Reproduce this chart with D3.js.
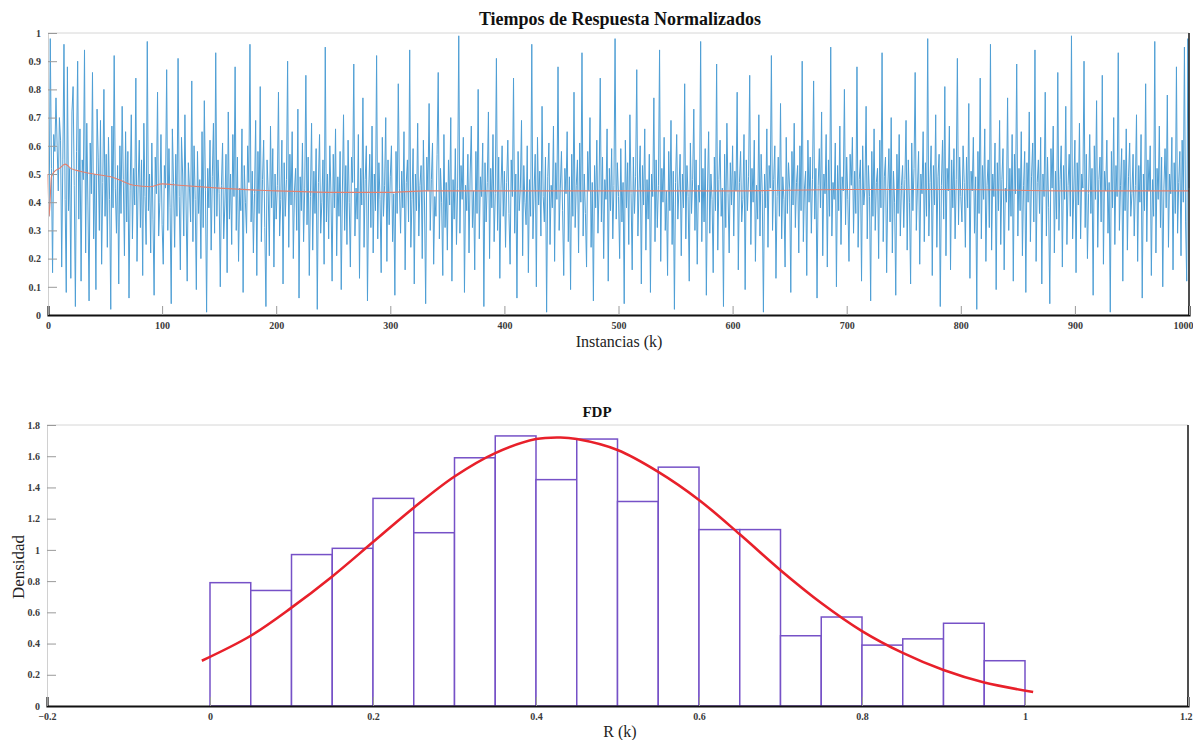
<!DOCTYPE html>
<html>
<head>
<meta charset="utf-8">
<script src="https://d3js.org/d3.v7.min.js"></script>
<style>
  body { margin: 0; background: #fff; }
  .tick text { font-family: "Liberation Serif", serif; font-size: 10px; font-weight: bold; fill: #3a3a3a; }
  .titulo { font-family: "Liberation Serif", serif; font-weight: bold; fill: #111; }
  .etiqueta { font-family: "Liberation Serif", serif; fill: #222; }
</style>
</head>
<body>
<div id="chart"></div>
<script>
// tiempos de respuesta normalizados (centesimas), k = 1..1000
const respuesta = [
35,98,52,15,64,58,77,60,44,70,62,17,55,96,41,8,88,37,52,13,72,81,46,3,58,90,34,66,12,55,48,94,22,68,39,5,61,43,86,27,50,9,73,56,30,69,18,47,80,35,
57,24,63,41,2,67,38,92,45,29,53,11,60,36,74,48,21,65,33,58,6,44,71,27,52,39,84,19,46,62,31,55,14,68,42,25,97,37,50,22,61,34,7,56,43,79,28,40,64,32,
18,53,45,87,30,59,38,4,66,47,24,57,35,91,42,16,63,50,28,71,39,12,54,45,33,83,26,60,41,9,58,36,48,20,65,31,76,44,1,52,38,62,23,49,68,29,93,35,55,43,
10,46,61,27,39,57,15,72,34,50,25,64,42,88,30,56,19,45,37,66,8,53,40,29,60,47,96,33,51,22,43,69,14,58,36,81,26,48,62,31,3,55,44,21,67,38,59,17,50,34,
46,79,28,41,62,11,54,35,48,90,24,57,39,65,20,44,52,30,73,6,49,37,61,26,45,85,32,56,14,42,68,23,51,36,59,2,47,64,29,40,55,18,95,33,50,27,60,43,12,57,
38,66,21,49,35,58,9,44,71,30,53,25,62,40,17,56,47,89,28,45,34,64,13,52,39,77,24,48,60,5,43,57,31,67,22,50,37,92,27,54,41,15,63,35,46,70,19,55,32,49,
60,26,43,7,58,36,82,45,29,51,38,65,16,47,55,33,94,24,41,59,11,50,37,68,28,46,53,20,62,39,4,56,44,75,30,48,61,18,42,35,57,86,27,52,40,14,64,31,47,23,
55,39,70,12,48,34,59,25,45,99,29,53,41,63,8,46,37,57,22,50,67,31,44,16,58,36,80,27,49,42,61,3,54,33,47,72,20,52,38,64,26,43,91,30,56,13,45,60,35,51,
24,47,62,36,18,55,42,84,29,50,6,58,37,45,69,21,53,40,32,60,15,48,35,96,27,44,57,10,63,39,51,28,74,42,33,56,1,49,61,25,46,38,67,19,54,41,88,30,45,58,
37,14,52,43,65,26,49,9,57,35,79,31,46,55,22,61,40,93,28,50,36,17,58,44,70,24,47,5,53,38,62,29,45,84,33,56,20,48,41,66,12,52,37,59,27,46,98,34,54,42,
20,59,33,47,4,62,38,54,25,71,43,16,56,36,49,87,28,45,60,11,53,39,66,23,48,34,57,8,50,42,77,26,55,31,46,94,19,52,40,63,30,44,14,58,37,69,25,51,2,47,
64,34,45,57,21,50,38,82,27,53,42,12,61,36,48,73,30,55,18,46,40,97,26,52,33,59,7,44,65,29,50,41,15,56,37,89,23,48,62,35,45,3,57,31,68,43,22,54,39,60,
28,51,44,79,16,47,58,33,41,64,9,55,37,49,85,25,52,40,62,19,46,34,71,28,57,43,1,50,38,66,24,53,45,92,30,48,60,13,42,56,35,75,27,49,41,17,63,36,54,45,
8,58,39,68,31,47,53,22,60,37,90,26,45,51,14,62,40,56,29,48,83,34,52,6,46,59,38,72,21,50,43,64,17,55,35,95,28,47,41,61,10,53,37,67,25,49,44,80,32,56,
41,19,57,46,63,29,51,36,88,24,48,55,12,60,39,45,74,27,53,42,5,58,35,66,30,47,52,20,62,38,93,26,49,56,15,44,59,33,70,22,51,40,7,57,36,64,28,46,53,31,
48,69,23,55,40,11,61,37,52,86,30,45,58,18,50,43,65,26,54,35,98,28,47,60,14,53,39,71,24,49,57,3,46,62,34,81,21,52,44,67,16,55,38,59,27,48,91,32,56,42,
33,60,47,24,56,38,75,13,51,44,63,29,49,2,58,36,84,27,53,41,66,19,46,55,31,96,23,50,42,61,9,54,37,69,25,48,59,16,45,40,77,30,52,35,64,12,57,43,89,28,
52,37,65,21,46,58,8,54,40,72,26,49,61,33,94,19,47,55,36,63,11,50,42,79,28,56,38,4,59,45,67,22,51,34,86,30,48,60,17,53,41,74,25,46,57,35,99,27,44,62,
15,54,39,68,27,50,45,90,31,57,20,43,64,36,52,7,60,41,76,24,48,56,33,85,18,51,44,62,29,47,1,58,38,70,25,53,42,93,30,46,59,12,55,37,66,23,49,61,35,43,
57,28,46,71,19,53,40,64,6,50,37,82,26,55,44,60,14,48,35,97,22,52,41,67,31,56,10,45,59,38,78,24,50,43,63,16,54,36,88,29,47,58,21,62,40,95,33,12,98,45
];

// media acumulada (linea roja del grafico superior)
const mediaK = [0, 1, 3, 6, 10, 15, 20, 28, 40, 55, 65, 75, 90, 100, 115, 150, 200, 250, 300, 330, 400, 500, 600, 700, 800, 900, 1000];
const mediaV = [0.50, 0.35, 0.49, 0.51, 0.52, 0.535, 0.52, 0.51, 0.50, 0.49, 0.475, 0.46, 0.455, 0.465, 0.46, 0.45, 0.44, 0.435, 0.435, 0.44, 0.44, 0.44, 0.44, 0.445, 0.445, 0.44, 0.44];

// histograma FDP
const binInicio = [0, 0.05, 0.10, 0.15, 0.20, 0.25, 0.30, 0.35, 0.40, 0.45, 0.50, 0.55, 0.60, 0.65, 0.70, 0.75, 0.80, 0.85, 0.90, 0.95];
const densidad  = [0.79, 0.74, 0.97, 1.01, 1.33, 1.11, 1.59, 1.73, 1.45, 1.71, 1.31, 1.53, 1.13, 1.13, 0.45, 0.57, 0.39, 0.43, 0.53, 0.29];
const anchoBin = 0.05;

// curva ajustada (roja)
const curvaX = [-0.01, 0.05, 0.10, 0.15, 0.20, 0.25, 0.30, 0.35, 0.40, 0.43, 0.45, 0.50, 0.55, 0.60, 0.65, 0.70, 0.75, 0.80, 0.85, 0.90, 0.95, 1.01];
const curvaY = [0.29, 0.45, 0.63, 0.83, 1.05, 1.27, 1.47, 1.62, 1.71, 1.72, 1.71, 1.64, 1.50, 1.32, 1.10, 0.87, 0.66, 0.48, 0.34, 0.23, 0.15, 0.09];

// ticks
const topYTicks = [0, 0.1, 0.2, 0.3, 0.4, 0.5, 0.6, 0.7, 0.8, 0.9, 1];
const topXTicks = [0, 100, 200, 300, 400, 500, 600, 700, 800, 900, 1000];
const fdpYTicks = [0, 0.2, 0.4, 0.6, 0.8, 1, 1.2, 1.4, 1.6, 1.8];
const fdpXTicks = [-0.2, 0, 0.2, 0.4, 0.6, 0.8, 1, 1.2];

const svg = d3.select("#chart").append("svg")
    .attr("width", 1193)
    .attr("height", 740);

function marco(g, x, y, ticksX, ticksY) {
    const [x0, x1] = x.range();
    const [y0, y1] = y.range();
    // borde superior y derecho
    g.append("line").attr("x1", x0).attr("x2", x1).attr("y1", y1).attr("y2", y1)
        .attr("stroke", "#d6d6d6").attr("stroke-width", 1);
    g.append("line").attr("x1", x1).attr("x2", x1).attr("y1", y1).attr("y2", y0)
        .attr("stroke", "#222").attr("stroke-width", 1.6);

    const ay = g.append("g")
        .attr("transform", `translate(${x0},0)`)
        .call(d3.axisLeft(y).tickValues(ticksY).tickSize(-9).tickPadding(7).tickFormat(d3.format("~g")));
    ay.select(".domain").attr("stroke", "#d0d0d0");
    ay.selectAll(".tick line").attr("stroke", "#9a9a9a");

    const ax = g.append("g")
        .attr("transform", `translate(0,${y0})`)
        .call(d3.axisBottom(x).tickValues(ticksX).tickSize(-9).tickPadding(7).tickFormat(d3.format("~g")));
    ax.select(".domain").attr("stroke", "#111").attr("stroke-width", 2.2);
    ax.selectAll(".tick line").attr("stroke", "#9a9a9a");
    // la ultima etiqueta queda pegada al borde derecho
    ax.selectAll(".tick text").filter((d, i, n) => i === n.length - 1)
        .attr("text-anchor", "end").attr("dx", 4);
}

// ---------- grafico superior ----------
const xT = d3.scaleLinear().domain([0, 1000]).range([48, 1189]);
const yT = d3.scaleLinear().domain([0, 1]).range([315, 33]);
const gT = svg.append("g");

gT.append("path")
    .datum(respuesta)
    .attr("fill", "none")
    .attr("stroke", "#4f9fd5")
    .attr("stroke-width", 1)
    .attr("d", d3.line().x((d, i) => xT(i + 1)).y(d => yT(d / 100)));

gT.append("path")
    .datum(mediaK.map((k, i) => [k, mediaV[i]]))
    .attr("fill", "none")
    .attr("stroke", "#e2806e")
    .attr("stroke-width", 1.1)
    .attr("d", d3.line().x(d => xT(d[0])).y(d => yT(d[1])).curve(d3.curveMonotoneX));

marco(gT, xT, yT, topXTicks, topYTicks);

gT.append("text").attr("class", "titulo")
    .attr("x", 620).attr("y", 25)
    .attr("text-anchor", "middle").style("font-size", "18px")
    .text("Tiempos de Respuesta Normalizados");

gT.append("text").attr("class", "etiqueta")
    .attr("x", 619).attr("y", 347)
    .attr("text-anchor", "middle").style("font-size", "16px")
    .text("Instancias (k)");

// ---------- FDP ----------
const xB = d3.scaleLinear().domain([-0.2, 1.2]).range([47, 1188]);
const yB = d3.scaleLinear().domain([0, 1.8]).range([706, 425]);
const gB = svg.append("g");

gB.selectAll("rect.bin")
    .data(binInicio)
    .join("rect")
    .attr("class", "bin")
    .attr("x", d => xB(d))
    .attr("y", (d, i) => yB(densidad[i]))
    .attr("width", d => xB(d + anchoBin) - xB(d))
    .attr("height", (d, i) => yB(0) - yB(densidad[i]))
    .attr("fill", "#fff")
    .attr("stroke", "#7651c7")
    .attr("stroke-width", 1.5);

gB.append("path")
    .datum(curvaX.map((x, i) => [x, curvaY[i]]))
    .attr("fill", "none")
    .attr("stroke", "#e8202a")
    .attr("stroke-width", 2.6)
    .attr("d", d3.line().x(d => xB(d[0])).y(d => yB(d[1])).curve(d3.curveCatmullRom));

marco(gB, xB, yB, fdpXTicks, fdpYTicks);

gB.append("text").attr("class", "titulo")
    .attr("x", 597).attr("y", 417)
    .attr("text-anchor", "middle").style("font-size", "15px")
    .text("FDP");

gB.append("text").attr("class", "etiqueta")
    .attr("x", 620).attr("y", 737)
    .attr("text-anchor", "middle").style("font-size", "16px")
    .text("R (k)");

gB.append("text").attr("class", "etiqueta")
    .attr("transform", "translate(24,567) rotate(-90)")
    .attr("text-anchor", "middle").style("font-size", "17px")
    .text("Densidad");
</script>
</body>
</html>
